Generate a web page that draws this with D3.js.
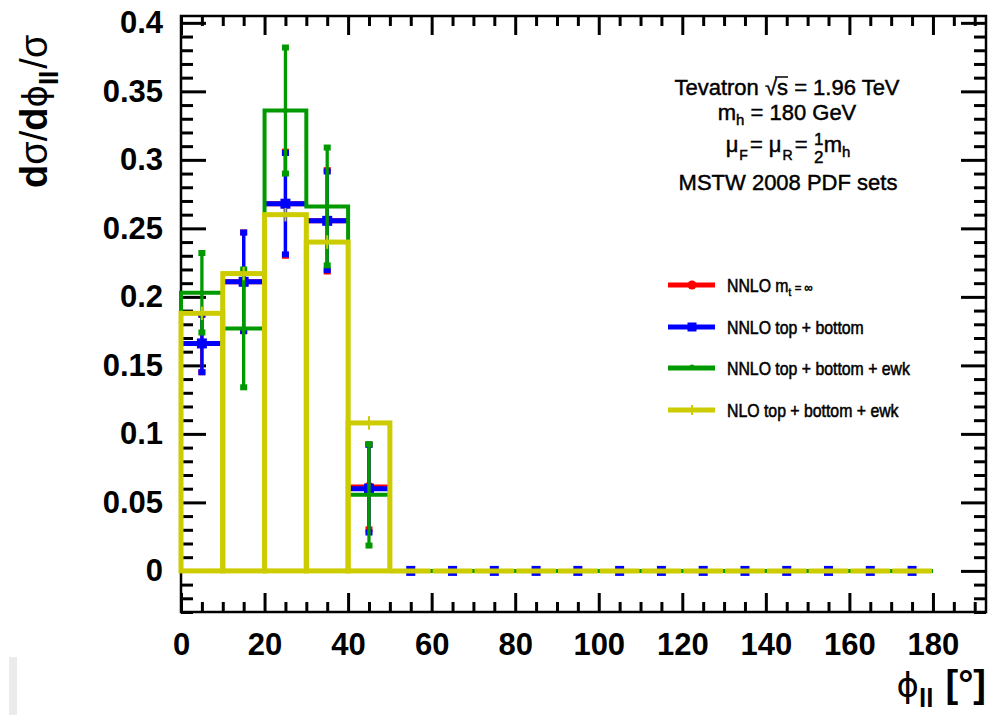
<!DOCTYPE html>
<html>
<head>
<meta charset="utf-8">
<script src="https://cdn.jsdelivr.net/npm/d3@7"></script>
<style>
  body { margin: 0; background: #fff; }
  svg { display: block; }
  text { font-family: "Liberation Sans", Arial, Helvetica, sans-serif; }
</style>
</head>
<body>
<svg id="chart" width="993" height="715"></svg>
<script>
// Azimuthal angle between the two leptons, normalised distribution per 10° bin
const binLow = [0, 10, 20, 30, 40, 50, 60, 70, 80, 90, 100, 110, 120, 130, 140, 150, 160, 170];
const binWidth = 10;

// NNLO, m_t -> infinity
const nnloInf    = [0.166, 0.211, 0.268, 0.2555, 0.0613, 0, 0, 0, 0, 0, 0, 0, 0, 0, 0, 0, 0, 0];
const nnloInfErr = [0.021, 0.036, 0.038, 0.037, 0.031, 0, 0, 0, 0, 0, 0, 0, 0, 0, 0, 0, 0, 0];
// NNLO, top + bottom loops
const nnloTB     = [0.166, 0.211, 0.268, 0.2555, 0.060, 0, 0, 0, 0, 0, 0, 0, 0, 0, 0, 0, 0, 0];
const nnloTBErr  = [0.021, 0.036, 0.037, 0.036, 0.032, 0, 0, 0, 0, 0, 0, 0, 0, 0, 0, 0, 0, 0];
// NNLO, top + bottom + electroweak
const nnloEwk    = [0.203, 0.177, 0.336, 0.266, 0.0555, 0, 0, 0, 0, 0, 0, 0, 0, 0, 0, 0, 0, 0];
const nnloEwkErr = [0.029, 0.043, 0.046, 0.043, 0.037, 0, 0, 0, 0, 0, 0, 0, 0, 0, 0, 0, 0, 0];
// NLO, top + bottom + electroweak
const nloEwk     = [0.188, 0.217, 0.260, 0.240, 0.108, 0, 0, 0, 0, 0, 0, 0, 0, 0, 0, 0, 0, 0];
const nloEwkErr  = [0.002, 0.002, 0.002, 0.002, 0.002, 0, 0, 0, 0, 0, 0, 0, 0, 0, 0, 0, 0, 0];

const xTicks = [0, 20, 40, 60, 80, 100, 120, 140, 160, 180];
const xTickLabels = ["0", "20", "40", "60", "80", "100", "120", "140", "160", "180"];
const yTicks = [0, 0.05, 0.1, 0.15, 0.2, 0.25, 0.3, 0.35, 0.4];
const yTickLabels = ["0", "0.05", "0.1", "0.15", "0.2", "0.25", "0.3", "0.35", "0.4"];

const legendLabels = ["NNLO m", "NNLO top + bottom", "NNLO top + bottom + ewk", "NLO top + bottom + ewk"];
const infoLines = ["Tevatron √s = 1.96 TeV", "180 GeV", "MSTW 2008 PDF sets"];

const RED = "#ff0000", BLUE = "#0000ff", GREEN = "#009900", YELLOW = "#cccc00";

const svg = d3.select("#chart");
const frame = { left: 181, right: 986, top: 16, bottom: 612 };

const x = d3.scaleLinear().domain([0, 192.7]).range([frame.left, frame.right]);
const y = d3.scaleLinear().domain([-0.03, 0.405]).range([frame.bottom, frame.top]);

// small grey strip at lower left
svg.append("rect").attr("x", 9).attr("y", 657).attr("width", 8).attr("height", 58).attr("fill", "#ebebeb");

// ---------- axes (ticks point inwards on all four sides) ----------
const xMinor = d3.range(0, 191, 5).filter(v => v % 20 !== 0);
const yMinor = d3.range(-3, 41).map(v => v / 100).filter(v => Math.round(v * 100) % 5 !== 0);

function styleAxis(g) {
  g.select(".domain").remove();
  g.selectAll(".tick line").attr("stroke", "#000").attr("stroke-width", 3);
}

const bottomMajor = svg.append("g").attr("transform", `translate(0,${frame.bottom})`)
  .call(d3.axisBottom(x).tickValues(xTicks).tickSize(-19).tickPadding(21)
        .tickFormat((d, i) => xTickLabels[i]));
styleAxis(bottomMajor);
bottomMajor.selectAll("text").attr("font-size", 31).attr("font-weight", "bold").attr("fill", "#000");

const bottomMinor = svg.append("g").attr("transform", `translate(0,${frame.bottom})`)
  .call(d3.axisBottom(x).tickValues(xMinor).tickSize(-10).tickFormat(""));
styleAxis(bottomMinor);

const topMajor = svg.append("g").attr("transform", `translate(0,${frame.top})`)
  .call(d3.axisTop(x).tickValues(xTicks).tickSize(-19).tickFormat(""));
styleAxis(topMajor);
const topMinor = svg.append("g").attr("transform", `translate(0,${frame.top})`)
  .call(d3.axisTop(x).tickValues(xMinor).tickSize(-10).tickFormat(""));
styleAxis(topMinor);

const leftMajor = svg.append("g").attr("transform", `translate(${frame.left},0)`)
  .call(d3.axisLeft(y).tickValues(yTicks).tickSize(-25).tickPadding(18)
        .tickFormat((d, i) => yTickLabels[i]));
styleAxis(leftMajor);
leftMajor.selectAll("text").attr("font-size", 31).attr("font-weight", "bold").attr("fill", "#000");

const leftMinor = svg.append("g").attr("transform", `translate(${frame.left},0)`)
  .call(d3.axisLeft(y).tickValues(yMinor).tickSize(-12).tickFormat(""));
styleAxis(leftMinor);

const rightMajor = svg.append("g").attr("transform", `translate(${frame.right},0)`)
  .call(d3.axisRight(y).tickValues(yTicks).tickSize(-25).tickFormat(""));
styleAxis(rightMajor);
const rightMinor = svg.append("g").attr("transform", `translate(${frame.right},0)`)
  .call(d3.axisRight(y).tickValues(yMinor).tickSize(-12).tickFormat(""));
styleAxis(rightMinor);

svg.append("rect")
  .attr("x", frame.left).attr("y", frame.top)
  .attr("width", frame.right - frame.left).attr("height", frame.bottom - frame.top)
  .attr("fill", "none").attr("stroke", "#000").attr("stroke-width", 2.5);

// ---------- data ----------
const plot = svg.append("g");
const centre = lo => lo + binWidth / 2;

function errorSeries(values, errs, color, opts) {
  const g = plot.append("g");
  binLow.forEach((lo, i) => {
    const v = values[i], e = errs[i];
    if (v === 0) return;
    const cx = x(centre(lo));
    if (opts.hbar) {
      g.append("line")
        .attr("x1", x(lo)).attr("x2", x(lo + binWidth))
        .attr("y1", y(v)).attr("y2", y(v))
        .attr("stroke", color).attr("stroke-width", opts.hbar);
    }
    g.append("line")
      .attr("x1", cx).attr("x2", cx)
      .attr("y1", y(v - e)).attr("y2", y(v + e))
      .attr("stroke", color).attr("stroke-width", 3.3);
    [v - e, v + e].forEach(t => {
      g.append("rect")
        .attr("x", cx - 3.5).attr("y", y(t) - 3)
        .attr("width", 7).attr("height", 6).attr("fill", color);
    });
    if (opts.marker === "circle") {
      g.append("circle").attr("cx", cx).attr("cy", y(v)).attr("r", 5).attr("fill", color);
    } else if (opts.marker === "square") {
      g.append("rect").attr("x", cx - 5).attr("y", y(v) - 5)
        .attr("width", 10).attr("height", 10).attr("fill", color);
    } else if (opts.marker === "dot") {
      g.append("circle").attr("cx", cx).attr("cy", y(v)).attr("r", 2.5).attr("fill", color);
    }
  });
  return g;
}

// step outline of a histogram
function stepPath(values) {
  const pts = [[binLow[0], 0]];
  binLow.forEach((lo, i) => {
    pts.push([lo, values[i]]);
    pts.push([lo + binWidth, values[i]]);
  });
  pts.push([binLow[binLow.length - 1] + binWidth, 0]);
  return d3.line().x(d => x(d[0])).y(d => y(d[1]))(pts);
}

errorSeries(nnloInf, nnloInfErr, RED, { hbar: 5, marker: "circle" });
errorSeries(nnloTB, nnloTBErr, BLUE, { hbar: 5, marker: "square" });

// empty bins still carry the top+bottom marker on the zero line
binLow.forEach((lo, i) => {
  if (nnloTB[i] !== 0) return;
  plot.append("rect")
    .attr("x", x(centre(lo)) - 4.5).attr("y", y(0) - 5)
    .attr("width", 9).attr("height", 10).attr("fill", BLUE);
});

plot.append("path").attr("d", stepPath(nnloEwk))
  .attr("fill", "none").attr("stroke", GREEN).attr("stroke-width", 4)
  .attr("stroke-linejoin", "miter");
errorSeries(nnloEwk, nnloEwkErr, GREEN, { hbar: 0, marker: "dot" });

// NLO drawn as outlined bars
binLow.forEach((lo, i) => {
  const v = nloEwk[i];
  if (v > 0) {
    plot.append("rect")
      .attr("x", x(lo)).attr("y", y(v))
      .attr("width", x(lo + binWidth) - x(lo)).attr("height", y(0) - y(v))
      .attr("fill", "none").attr("stroke", YELLOW).attr("stroke-width", 5);
  } else {
    plot.append("line")
      .attr("x1", x(lo) + 1).attr("x2", x(lo + binWidth) - 1)
      .attr("y1", y(0)).attr("y2", y(0))
      .attr("stroke", YELLOW).attr("stroke-width", 5);
  }
});
binLow.forEach((lo, i) => {
  const v = nloEwk[i];
  if (v === 0) return;
  const cx = x(centre(lo));
  plot.append("line").attr("x1", cx).attr("x2", cx)
    .attr("y1", y(v - nloEwkErr[i]) + 4).attr("y2", y(v + nloEwkErr[i]) - 4)
    .attr("stroke", YELLOW).attr("stroke-width", 2);
  plot.append("line").attr("x1", cx - 2.5).attr("x2", cx + 2.5)
    .attr("y1", y(v)).attr("y2", y(v))
    .attr("stroke", YELLOW).attr("stroke-width", 2);
});

// ---------- info text ----------
const info = svg.append("g").attr("fill", "#000").attr("stroke", "#000").attr("stroke-width", 0.45);
const l1 = info.append("text").attr("x", 787).attr("y", 95)
  .attr("text-anchor", "middle").attr("font-size", 22).text(infoLines[0]);
// overline of the square root over "s"
{
  const idx = infoLines[0].indexOf("s");
  const ext = l1.node().getExtentOfChar(idx);
  const rootExt = l1.node().getExtentOfChar(idx - 1);
  info.append("line")
    .attr("x1", rootExt.x + rootExt.width - 2).attr("x2", ext.x + ext.width)
    .attr("y1", rootExt.y + 2).attr("y2", rootExt.y + 2)
    .attr("stroke", "#000").attr("stroke-width", 1.5);
}

const l2 = info.append("text").attr("x", 787).attr("y", 120)
  .attr("text-anchor", "middle").attr("font-size", 22);
l2.append("tspan").text("m");
l2.append("tspan").attr("font-size", 15).attr("dy", 5).text("h");
l2.append("tspan").attr("dy", -5).text(" = " + infoLines[1]);

// scale choice line; the ½ is stacked as numerator above denominator
const l3 = info.append("text").attr("x", 788).attr("y", 152)
  .attr("text-anchor", "middle").attr("font-size", 22);
l3.append("tspan").text("μ");
l3.append("tspan").attr("font-size", 14).attr("dy", 8).attr("dx", 1).text("F");
l3.append("tspan").attr("dy", -8).attr("dx", 2).text("= μ");
l3.append("tspan").attr("font-size", 14).attr("dy", 8).attr("dx", 1).text("R");
l3.append("tspan").attr("dy", -8).attr("dx", 2).text("= ");
l3.append("tspan").attr("font-size", 18).attr("dy", -7).attr("fill", "none").attr("stroke", "none").text("2");
l3.append("tspan").attr("dy", 7).text("m");
l3.append("tspan").attr("font-size", 15).attr("dy", 5).text("h");
{
  // place numerator and denominator over the reserved gap
  const n = l3.node();
  const gapIdx = "μF= μR= ".length;
  const ext = n.getExtentOfChar(gapIdx);
  const cx = ext.x + ext.width / 2;
  info.append("text").attr("x", cx).attr("y", 145).attr("text-anchor", "middle")
    .attr("font-size", 17).text("1");
  info.append("text").attr("x", cx).attr("y", 163).attr("text-anchor", "middle")
    .attr("font-size", 17).text("2");
}

info.append("text").attr("x", 788).attr("y", 190)
  .attr("text-anchor", "middle").attr("font-size", 22).text(infoLines[2]);

// ---------- legend ----------
const legendY = [285, 327, 368, 410];
const legendColors = [RED, BLUE, GREEN, YELLOW];
const legend = svg.append("g");
legendY.forEach((ly, i) => {
  const c = legendColors[i];
  legend.append("line").attr("x1", 668).attr("x2", 715).attr("y1", ly).attr("y2", ly)
    .attr("stroke", c).attr("stroke-width", 5);
  if (i === 0) legend.append("circle").attr("cx", 692).attr("cy", ly).attr("r", 4.5).attr("fill", c);
  if (i === 1) legend.append("rect").attr("x", 687.5).attr("y", ly - 4.5).attr("width", 9).attr("height", 9).attr("fill", c);
  if (i === 2) legend.append("circle").attr("cx", 692).attr("cy", ly - 1).attr("r", 2.5).attr("fill", c);
  if (i === 3) legend.append("line").attr("x1", 692).attr("x2", 692).attr("y1", ly - 5).attr("y2", ly + 5)
    .attr("stroke", c).attr("stroke-width", 2);

  const tg = legend.append("g").attr("transform", `translate(727,${ly + 6.5}) scale(0.88,1)`);
  const t = tg.append("text").attr("x", 0).attr("y", 0).attr("font-size", 18)
    .attr("fill", "#000").attr("stroke", "#000").attr("stroke-width", 0.55);
  t.append("tspan").text(legendLabels[i]);
  if (i === 0) {
    t.append("tspan").attr("font-size", 11).attr("dy", 4).text("t");
    t.append("tspan").attr("font-size", 13).attr("dy", -4).attr("dx", 4).text("= ∞");
  }
});

// ---------- axis titles ----------
const yTitle = svg.append("text")
  .attr("transform", "translate(47,188) rotate(-90)")
  .attr("font-size", 38).attr("fill", "#000");
yTitle.append("tspan").attr("font-weight", "bold").text("d");
yTitle.append("tspan").text("σ/");
yTitle.append("tspan").attr("font-weight", "bold").text("d");
yTitle.append("tspan").attr("font-family", "DejaVu Sans").attr("font-size", 34).text("ϕ");
yTitle.append("tspan").attr("font-weight", "bold").attr("font-size", 26).attr("dy", 11).text("ll");
yTitle.append("tspan").attr("dy", -11).attr("dx", 2).text("/σ");

const xTitle = svg.append("text")
  .attr("x", frame.right).attr("y", 697).attr("text-anchor", "end")
  .attr("font-size", 38).attr("fill", "#000");
xTitle.append("tspan").attr("font-family", "DejaVu Sans").attr("font-size", 34).text("ϕ");
xTitle.append("tspan").attr("font-weight", "bold").attr("font-size", 26).attr("dy", 10).text("ll");
xTitle.append("tspan").attr("font-weight", "bold").attr("dy", -10).attr("dx", 12).text("[°]");
</script>
</body>
</html>
